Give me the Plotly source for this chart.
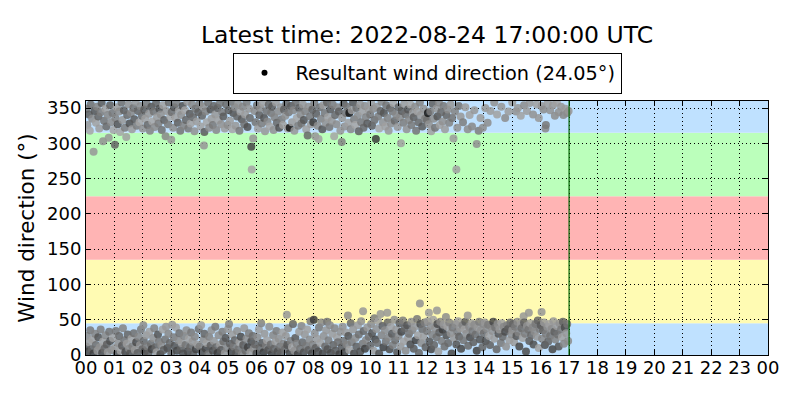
import pandas as pd
import plotly.graph_objects as go

day = "2022-08-24"
latest_time = "2022-08-24 17:00:00"
resultant_dir = 24.05

# direction sectors (deg) and their background colours
band_edges = [0, 45, 135, 225, 315, 360]
band_colors = ["#bfe1ff", "#fffbb3", "#ffb4b4", "#bbffbb", "#bfe1ff"]

hour_labels = ["%02d" % h for h in range(24)] + ["00"]
y_ticks = [0, 50, 100, 150, 200, 250, 300, 350]

# observations near north, west side (minute of day, direction, grey 0-255)
min_hi = [1, 3, 6, 8, 10, 13, 16, 18, 21, 23, 26, 28, 31, 33, 36, 38, 41, 43, 46, 48, 51, 53, 56, 58,
          61, 62, 65, 67, 70, 72, 75, 77, 80, 82, 85, 87, 90, 92, 95, 97, 100, 102, 105, 107, 110, 113, 115, 118,
          120, 123, 125, 128, 130, 133, 135, 138, 140, 143, 145, 148, 150, 153, 155, 158, 160, 163, 165, 168, 170, 173, 175, 178,
          180, 181, 184, 186, 189, 191, 194, 196, 199, 201, 204, 206, 209, 211, 214, 216, 219, 221, 224, 226, 229, 231, 234, 237,
          240, 242, 245, 247, 249, 250, 253, 255, 258, 260, 263, 265, 268, 270, 273, 275, 278, 280, 283, 285, 288, 290, 293, 296,
          299, 301, 304, 306, 309, 311, 314, 316, 319, 321, 324, 326, 329, 331, 334, 336, 339, 341, 344, 346, 349, 350, 353, 356, 358,
          361, 363, 366, 368, 371, 373, 376, 378, 381, 383, 386, 388, 391, 393, 396, 398, 401, 403, 406, 408, 411, 413, 416, 418,
          421, 423, 426, 428, 430, 433, 435, 438, 440, 443, 445, 448, 450, 453, 455, 458, 460, 463, 465, 468, 470, 473, 475, 478,
          480, 482, 484, 486, 489, 491, 494, 496, 499, 501, 504, 506, 509, 511, 514, 516, 519, 521, 524, 526, 529, 531, 534, 537,
          540, 541, 544, 546, 549, 551, 554, 556, 559, 561, 564, 566, 569, 571, 574, 576, 579, 581, 584, 586, 589, 591, 594, 597,
          600, 602, 604, 607, 609, 612, 614, 617, 619, 622, 624, 627, 629, 632, 634, 637, 639, 642, 644, 647, 649, 652, 655,
          658, 660, 663, 665, 667, 670, 672, 675, 677, 680, 682, 685, 687, 690, 692, 695, 697, 700, 702, 705, 707, 710, 713, 716,
          720, 722, 724, 727, 729, 732, 734, 737, 740, 742, 745, 747, 750, 753, 755, 758, 761, 764, 767, 770, 773, 776,
          779, 782, 784, 787, 791, 796, 801, 806, 810, 815, 820, 825, 829, 833, 838,
          843, 848, 854, 862, 868, 877, 885, 892,
          900, 908, 912, 918, 925, 931, 937, 944, 952, 956,
          962, 966, 970, 971, 975, 980, 986, 990, 994, 998, 1003, 1008, 1012, 1016, 1019]
dir_hi = [349, 326, 341, 318, 355, 335, 288, 346, 329, 352, 338, 321, 344, 357, 303, 332, 349, 324, 340, 308, 354, 330, 343, 319,
          298, 336, 351, 327, 345, 316, 358, 333, 347, 322, 309, 340, 355, 328, 343, 320, 350, 334, 359, 325, 346, 330, 353, 339,
          321, 348, 335, 356, 326, 342, 318, 352, 331, 345, 323, 357, 337, 328, 349, 341, 319, 354, 333, 310, 346, 327, 358, 338,
          305, 344, 322, 351, 336, 357, 329, 346, 318, 340, 353, 325, 347, 333, 359, 321, 342, 328, 355, 337, 317, 349, 331, 344,
          356, 324, 339, 352, 297, 316, 345, 330, 358, 322, 348, 335, 326, 353, 341, 319, 350, 333, 357, 327, 344, 338, 321, 355,
          326, 347, 332, 359, 320, 343, 351, 325, 338, 356, 318, 345, 334, 352, 327, 341, 358, 323, 349, 336, 295, 263, 307, 346, 330,
          354, 321, 340, 350, 328, 357, 336, 317, 346, 331, 355, 324, 343, 352, 319, 337, 358, 329, 345, 322, 351, 334, 326, 348,
          339, 356, 321, 344, 322, 353, 330, 347, 318, 358, 336, 325, 350, 341, 328, 355, 333, 345, 320, 311, 352, 338, 327, 348,
          330, 357, 310, 342, 325, 306, 351, 335, 320, 354, 343, 329, 358, 337, 323, 348, 332, 355, 310, 340, 327, 351, 345, 318,
          302, 336, 356, 324, 343, 352, 329, 343, 320, 347, 358, 334, 326, 350, 339, 317, 355, 330, 345, 322, 353, 337, 328, 348,
          341, 357, 325, 349, 333, 306, 352, 338, 321, 346, 359, 330, 343, 324, 354, 336, 318, 350, 328, 345, 357, 332, 340,
          323, 351, 337, 300, 346, 329, 356, 341, 320, 348, 333, 355, 326, 343, 337, 352, 318, 345, 330, 358, 340, 324, 349, 335,
          333, 343, 327, 345, 317, 356, 335, 322, 349, 338, 358, 326, 344, 331, 353, 320, 340, 348, 329, 355, 336, 307,
          345, 263, 322, 353, 338, 330, 351, 320, 340, 324, 347, 299, 318, 336, 322,
          350, 329, 346, 358, 341, 352, 336, 345,
          358, 345, 350, 339, 354, 346, 357, 341, 355, 336,
          353, 348, 321, 326, 357, 347, 354, 339, 358, 344, 352, 340, 349, 343, 346]
gray_hi = [120, 150, 95, 165, 110, 140, 150, 85, 160, 130, 100, 155, 125, 90, 145, 115, 160, 105, 135, 150, 95, 140, 120, 165,
           100, 130, 155, 85, 140, 165, 110, 150, 95, 125, 160, 105, 145, 80, 135, 155, 115, 90, 150, 125, 100, 165, 140, 110,
           145, 90, 160, 120, 105, 150, 130, 85, 165, 115, 140, 100, 155, 125, 80, 145, 110, 160, 95, 135, 150, 120, 105, 165,
           150, 110, 140, 85, 160, 125, 95, 155, 115, 145, 80, 130, 165, 100, 150, 120, 90, 160, 135, 105, 145, 115, 155, 95,
           125, 160, 100, 145, 150, 90, 130, 165, 110, 140, 85, 155, 120, 100, 150, 135, 95, 160, 115, 145, 125, 90, 155, 105,
           140, 95, 155, 115, 165, 85, 130, 150, 100, 145, 120, 160, 90, 135, 110, 155, 125, 80, 150, 105, 70, 165, 150, 140, 115,
           110, 155, 95, 140, 125, 160, 85, 150, 115, 135, 100, 165, 120, 90, 145, 130, 155, 105, 140, 80, 150, 120, 160, 95,
           145, 100, 160, 120, 20, 90, 155, 135, 150, 110, 165, 125, 95, 140, 115, 150, 85, 130, 160, 105, 145, 120, 155, 100,
           60, 125, 150, 95, 140, 160, 110, 130, 85, 155, 120, 145, 100, 160, 115, 90, 150, 125, 165, 105, 140, 135, 95, 150,
           130, 150, 90, 145, 115, 115, 160, 20, 135, 155, 85, 125, 165, 110, 140, 95, 150, 120, 160, 105, 145, 130, 90, 155,
           120, 155, 95, 140, 110, 60, 150, 125, 165, 100, 135, 145, 85, 160, 115, 130, 150, 95, 140, 120, 165, 105, 135,
           150, 100, 140, 160, 90, 125, 155, 110, 145, 85, 135, 165, 120, 150, 95, 140, 115, 160, 105, 130, 150, 90, 145, 125,
           110, 20, 145, 125, 160, 95, 140, 115, 150, 85, 135, 160, 105, 145, 120, 155, 100, 140, 130, 150, 115, 155,
           130, 160, 145, 115, 150, 125, 155, 140, 160, 135, 150, 145, 125, 155, 140,
           150, 140, 155, 145, 160, 150, 140, 155,
           155, 145, 150, 160, 140, 155, 150, 145, 160, 150,
           150, 140, 135, 120, 155, 145, 150, 140, 160, 145, 150, 135, 155, 140, 150]

# observations near north, east side
min_lo = [0, 2, 4, 7, 9, 12, 14, 16, 19, 21, 24, 26, 29, 31, 34, 36, 39, 41, 44, 46, 49, 51, 54, 57,
          60, 63, 65, 68, 70, 73, 76, 78, 81, 83, 86, 88, 91, 93, 96, 98, 101, 103, 106, 109, 111, 114, 116, 119,
          121, 122, 124, 127, 129, 132, 134, 137, 139, 142, 144, 147, 149, 152, 154, 157, 159, 162, 164, 167, 169, 172, 174, 177,
          180, 182, 185, 187, 190, 192, 195, 197, 200, 202, 205, 207, 210, 212, 215, 217, 220, 222, 225, 227, 230, 232, 235, 238,
          240, 243, 245, 248, 250, 253, 255, 258, 260, 263, 265, 268, 270, 273, 275, 278, 280, 283, 285, 288, 290, 293, 295, 298,
          300, 302, 304, 307, 309, 312, 314, 317, 319, 322, 324, 327, 329, 332, 334, 337, 339, 342, 344, 347, 349, 352, 354, 357,
          360, 362, 365, 367, 370, 372, 375, 377, 380, 382, 385, 387, 390, 392, 395, 397, 400, 402, 405, 407, 410, 412, 415, 417,
          420, 422, 424, 425, 427, 430, 432, 435, 437, 440, 442, 445, 447, 450, 452, 455, 457, 460, 462, 465, 467, 470, 472, 474, 477,
          479, 481, 483, 485, 488, 490, 492, 495, 497, 500, 502, 505, 507, 509, 510, 512, 515, 517, 520, 522, 525, 527, 530, 532, 535, 537,
          540, 542, 544, 546, 549, 551, 553, 554, 556, 559, 561, 564, 566, 569, 571, 574, 576, 579, 581, 584, 585, 586, 589, 591, 594, 597,
          600, 602, 604, 607, 609, 611, 613, 615, 617, 619, 622, 624, 626, 628, 631, 633, 636, 637, 639, 641, 644, 646, 648, 651, 653, 655, 657,
          660, 662, 664, 666, 669, 671, 673, 675, 678, 680, 682, 685, 687, 689, 692, 694, 696, 699, 701, 703, 705, 706, 708, 710, 713, 715, 717,
          720, 722, 724, 725, 727, 729, 731, 733, 735, 737, 740, 741, 742, 744, 746, 748, 751, 753, 755, 757, 760, 761, 763, 765, 767, 770, 772, 774, 777,
          780, 782, 784, 786, 788, 790, 792, 795, 797, 799, 801, 803, 806, 807, 809, 811, 814, 816, 818, 820, 823, 825, 827, 830, 832, 834, 837, 839,
          840, 842, 844, 846, 849, 851, 853, 855, 858, 860, 862, 864, 867, 869, 871, 873, 876, 878, 880, 882, 885, 887, 889, 891, 894, 896, 898,
          900, 902, 904, 906, 909, 911, 913, 915, 918, 920, 922, 924, 925, 927, 929, 931, 934, 935, 936, 938, 940, 943, 945, 947, 949, 952, 954, 956, 958,
          960, 962, 963, 965, 967, 969, 971, 974, 976, 978, 980, 983, 985, 987, 989, 991, 994, 996, 998, 1000, 1003, 1005, 1007, 1009, 1011, 1014, 1016, 1018]
dir_lo = [12, 27, 5, 18, 35, 8, 22, 2, 30, 14, 6, 25, 11, 36, 3, 19, 9, 28, 15, 4, 33, 20, 7, 24,
          10, 34, 1, 17, 27, 6, 13, 38, 21, 4, 16, 29, 9, 2, 23, 12, 31, 7, 18, 3, 26, 14, 36, 8,
          42, 20, 5, 28, 12, 2, 33, 16, 8, 24, 38, 11, 4, 29, 19, 1, 14, 36, 7, 22, 40, 10, 30, 17,
          3, 43, 25, 13, 39, 6, 21, 31, 9, 17, 2, 27, 14, 35, 5, 23, 11, 32, 19, 1, 26, 8, 15, 37,
          12, 42, 4, 22, 30, 9, 17, 1, 26, 13, 35, 6, 20, 40, 11, 3, 28, 15, 7, 33, 19, 2, 24, 10,
          37, 44, 16, 5, 29, 12, 21, 3, 34, 8, 18, 26, 1, 14, 38, 6, 23, 11, 31, 4, 19, 27, 9, 15,
          2, 25, 36, 10, 45, 17, 4, 30, 13, 21, 7, 40, 15, 1, 28, 9, 19, 34, 5, 23, 12, 3, 32, 16,
          8, 27, 57, 14, 38, 3, 20, 11, 44, 6, 24, 16, 1, 33, 9, 41, 18, 4, 29, 13, 36, 7, 22, 48, 2,
          15, 50, 31, 10, 23, 5, 39, 17, 46, 2, 27, 12, 35, 47, 8, 21, 42, 3, 30, 14, 38, 6, 25, 18, 1, 33,
          11, 40, 20, 4, 32, 15, 56, 27, 7, 45, 18, 36, 2, 24, 12, 42, 29, 5, 48, 16, 62, 34, 9, 21, 39, 26,
          13, 44, 31, 6, 52, 22, 37, 17, 48, 2, 58, 28, 41, 11, 35, 19, 60, 46, 25, 8, 40, 30, 14, 50, 21, 36, 4,
          27, 45, 12, 33, 49, 19, 38, 6, 42, 24, 30, 15, 47, 35, 9, 40, 21, 51, 28, 3, 73, 44, 17, 37, 26, 46, 11,
          34, 48, 60, 19, 41, 8, 29, 50, 14, 38, 25, 63, 44, 5, 32, 47, 20, 36, 43, 12, 54, 28, 40, 17, 46, 31, 2, 39, 24,
          44, 15, 33, 48, 26, 38, 9, 42, 21, 36, 47, 30, 56, 13, 40, 25, 45, 34, 18, 43, 29, 6, 39, 47, 22, 35, 11, 44,
          31, 46, 20, 38, 43, 27, 14, 41, 34, 47, 23, 39, 8, 44, 30, 36, 17, 45, 26, 40, 33, 12, 42, 37, 21, 46, 29,
          35, 44, 18, 40, 27, 47, 32, 12, 43, 38, 24, 55, 46, 30, 5, 41, 36, 60, 20, 45, 28, 39, 15, 33, 44, 26, 49, 10, 37,
          42, 61, 23, 35, 46, 14, 30, 40, 19, 44, 27, 37, 8, 48, 33, 22, 41, 29, 12, 45, 36, 25, 47, 16, 39, 31, 44, 20]
gray_lo = [90, 140, 70, 155, 120, 100, 160, 65, 130, 110, 150, 85, 145, 125, 75, 160, 105, 135, 95, 150, 115, 80, 140, 160,
           150, 120, 80, 145, 105, 160, 90, 130, 115, 70, 155, 100, 140, 85, 160, 125, 110, 150, 75, 95, 135, 145, 120, 105,
           140, 105, 75, 150, 125, 90, 160, 110, 65, 145, 130, 100, 155, 85, 120, 70, 140, 160, 95, 115, 150, 80, 135, 105,
           100, 150, 125, 85, 160, 70, 140, 110, 95, 155, 80, 130, 115, 145, 75, 160, 105, 120, 150, 90, 135, 65, 155, 110,
           125, 155, 80, 140, 100, 70, 160, 115, 130, 95, 145, 75, 150, 120, 105, 60, 140, 155, 90, 125, 110, 150, 85, 135,
           150, 130, 95, 70, 155, 120, 100, 85, 145, 115, 160, 75, 130, 90, 150, 105, 140, 65, 125, 155, 80, 110, 145, 100,
           75, 140, 155, 105, 130, 90, 60, 150, 120, 160, 85, 145, 110, 70, 135, 100, 155, 125, 80, 145, 115, 95, 160, 130,
           110, 150, 150, 85, 140, 70, 125, 160, 100, 145, 90, 130, 65, 155, 115, 135, 105, 80, 150, 120, 160, 95, 140, 125, 75,
           130, 60, 145, 95, 155, 80, 120, 160, 135, 70, 145, 105, 150, 115, 85, 125, 140, 75, 155, 100, 135, 90, 160, 110, 65, 145,
           90, 145, 115, 70, 155, 130, 140, 85, 160, 105, 125, 150, 75, 140, 95, 155, 110, 80, 145, 120, 150, 100, 65, 135, 150, 115,
           100, 140, 85, 155, 125, 70, 145, 110, 160, 80, 150, 130, 95, 65, 140, 115, 150, 105, 135, 75, 160, 90, 125, 145, 110, 150, 85,
           135, 95, 150, 70, 125, 160, 105, 140, 85, 155, 115, 75, 145, 130, 90, 150, 65, 120, 160, 100, 145, 80, 140, 110, 155, 125, 95,
           120, 150, 155, 85, 140, 70, 130, 160, 100, 145, 115, 150, 75, 155, 95, 135, 125, 60, 150, 110, 140, 80, 160, 105, 130, 145, 70, 120, 150,
           140, 85, 125, 155, 100, 150, 70, 130, 115, 160, 90, 145, 150, 105, 135, 75, 155, 120, 95, 140, 110, 65, 150, 125, 85, 145, 100, 135,
           110, 150, 80, 140, 125, 160, 95, 130, 145, 70, 155, 115, 100, 140, 85, 150, 120, 160, 105, 135, 75, 145, 130, 90, 155, 110, 140,
           145, 100, 155, 120, 85, 140, 130, 70, 150, 110, 160, 150, 95, 125, 75, 145, 115, 150, 90, 155, 105, 135, 80, 140, 120, 150, 100, 160, 125,
           90, 150, 135, 105, 150, 80, 125, 145, 100, 160, 115, 140, 70, 150, 95, 130, 155, 110, 85, 145, 120, 160, 100, 135, 75, 150, 115, 140]

assert len(min_hi) == len(dir_hi) == len(gray_hi), (len(min_hi), len(dir_hi), len(gray_hi))
assert len(min_lo) == len(dir_lo) == len(gray_lo), (len(min_lo), len(dir_lo), len(gray_lo))

start = pd.Timestamp(day)
minutes = min_hi + min_lo
times = start + pd.to_timedelta(minutes, unit="m")
directions = dir_hi + dir_lo
colors = ["rgb(%d,%d,%d)" % (g, g, g) for g in gray_hi + gray_lo]

fig = go.Figure()

fig.add_trace(go.Scatter(
    x=times, y=directions, mode="markers",
    marker=dict(size=8, color=colors, opacity=0.85, line=dict(width=0)),
    showlegend=False, hoverinfo="x+y"
))

# legend entry only
fig.add_trace(go.Scatter(
    x=[None], y=[None], mode="markers",
    marker=dict(size=6, color="black"),
    name="Resultant wind direction (%.2f°)" % resultant_dir
))

for i in range(len(band_colors)):
    fig.add_shape(type="rect", xref="x domain", yref="y",
                  x0=0, x1=1, y0=band_edges[i], y1=band_edges[i + 1],
                  fillcolor=band_colors[i], line_width=0, layer="below")

fig.add_shape(type="line", xref="x", yref="y domain",
              x0=latest_time, x1=latest_time, y0=0, y1=1,
              line=dict(color="#006400", width=1.2))

tick_vals = [start + pd.Timedelta(hours=h) for h in range(25)]

# page body has an 8px margin, so the figure is sized to fit inside 800x400
fig.update_layout(
    width=784, height=384,
    margin=dict(l=78, r=24, t=93, b=37),
    paper_bgcolor="white", plot_bgcolor="white",
    font=dict(family="DejaVu Sans", size=18, color="black"),
    title=dict(text="Latest time: %s UTC" % latest_time, x=0.5, xref="paper",
               y=0.93, yanchor="middle", font=dict(size=23.5)),
    legend=dict(x=0.5, xanchor="center", y=1.19, yanchor="top",
                orientation="h", bordercolor="black", borderwidth=1,
                bgcolor="white", font=dict(size=19.3), itemwidth=52),
    xaxis=dict(range=[start, start + pd.Timedelta(hours=24)],
               tickvals=tick_vals, ticktext=hour_labels,
               showgrid=True, gridcolor="black", griddash="1px,3px", gridwidth=1,
               ticks="inside", ticklen=5, tickcolor="black",
               ticklabelstandoff=-4,
               showline=True, linecolor="black", linewidth=1, mirror="ticks",
               zeroline=False),
    yaxis=dict(range=[0, 360], tickvals=y_ticks,
               title=dict(text="Wind direction (°)", font=dict(size=21.5), standoff=6),
               showgrid=True, gridcolor="black", griddash="1px,3px", gridwidth=1,
               ticks="inside", ticklen=5, tickcolor="black",
               showline=True, linecolor="black", linewidth=1, mirror="ticks",
               zeroline=False),
)

fig.write_html("out.html")
